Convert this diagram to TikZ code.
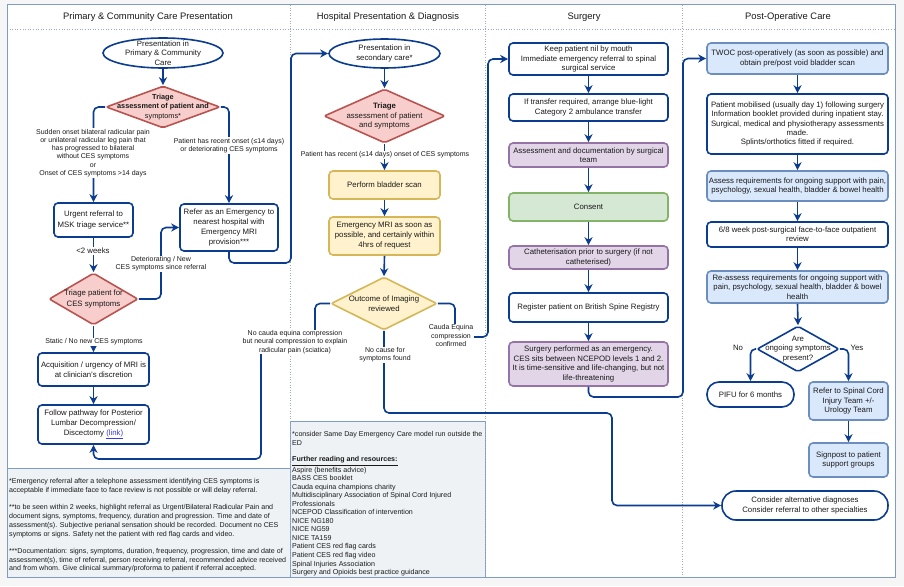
\documentclass[tikz,border=0pt]{standalone}
\usepackage{fontspec}
\setmainfont{Liberation Sans}
\usetikzlibrary{arrows.meta,shapes.geometric}
\definecolor{navy}{HTML}{0B3C8F}
\definecolor{txtc}{HTML}{1A1A1A}
\definecolor{pkfill}{HTML}{F8CECC}
\definecolor{pkdraw}{HTML}{B85450}
\definecolor{yfill}{HTML}{FFF2CC}
\definecolor{ydraw}{HTML}{D6B656}
\definecolor{pufill}{HTML}{E1D5E7}
\definecolor{pudraw}{HTML}{9673A6}
\definecolor{gfill}{HTML}{D5E8D4}
\definecolor{gdraw}{HTML}{82B366}
\definecolor{bfill}{HTML}{DAE8FC}
\definecolor{bdraw}{HTML}{6C8EBF}
\definecolor{framec}{HTML}{7F9CC8}
\definecolor{divc}{HTML}{9AAAC2}
\definecolor{notefill}{HTML}{EEF2F5}
\definecolor{linkc}{HTML}{3B3BE0}
\definecolor{bgc}{HTML}{F6F6F6}
\newcommand\fnBox{\fontsize{7.8}{9.5}\selectfont}
\newcommand\fnBig{\fontsize{7.8}{10.1}\selectfont}
\newcommand\fnSm{\fontsize{7.8}{9.3}\selectfont}
\newcommand\fnDia{\fontsize{7.3}{9.2}\selectfont}
\newcommand\fnLbl{\fontsize{7.0}{8.3}\selectfont}
\newcommand\fnHead{\fontsize{9.4}{11}\selectfont}
\newcommand\fnNote{\fontsize{7.1}{8.7}\selectfont}
\newcommand\fnNoteB{\fontsize{7.1}{8.54}\selectfont}
\newcommand\bx[7][\fnBox]{%
  \node[#2, minimum width=#5pt, minimum height=#6pt] (#3) at (#4) {};
  \node[tx, font=#1] (#3t) at (#3.center) {#7};}
\begin{document}
\begin{tikzpicture}[x=1pt,y=-1pt,
  tx/.style={align=center, inner sep=0pt, text=txtc},
  box/.style={draw=navy, line width=1.6pt, rounded corners=4pt, fill=white, inner sep=0pt},
  bbox/.style={box, draw=bdraw, fill=bfill},
  ybox/.style={box, draw=ydraw, fill=yfill},
  pbox/.style={box, draw=pudraw, fill=pufill},
  gbox/.style={box, draw=gdraw, fill=gfill},
  diam/.style={shape=diamond, draw=navy, fill=white, line width=1.6pt, inner sep=0pt, rounded corners=2pt},
  pdiam/.style={diam, draw=pkdraw, fill=pkfill},
  ydiam/.style={diam, draw=ydraw, fill=yfill},
  ell/.style={shape=ellipse, draw=navy, fill=white, line width=1.6pt, inner sep=0pt},
  stadA/.style={box, rounded corners=12pt},
  stadB/.style={box, rounded corners=14pt},
  conn/.style={draw=navy, line width=1.6pt, rounded corners=5pt},
  arr/.style={conn, -{Stealth[length=8pt,width=8pt,inset=2.5pt]}},
  lbl/.style={fill=white, inner sep=0.8pt, align=center, font=\fnLbl, text=txtc},
  head/.style={font=\fnHead, text=txtc, inner sep=0pt},
  divline/.style={draw=divc, line width=0.6pt, dotted}
]
\useasboundingbox (0,0) rectangle (904,586);
\fill[bgc] (0,0) rectangle (904,586);
\fill[white] (7,5) rectangle (895,577);
% notes backgrounds
\draw[fill=notefill, draw=framec, line width=0.8pt] (7,468) rectangle (290,577);
\draw[fill=notefill, draw=framec, line width=0.8pt] (290,421) rectangle (485,577);
% dividers
\draw[divline] (7,29) -- (895,29);
\draw[divline] (290,5) -- (290,577);
\draw[divline] (485,5) -- (485,577);
\draw[divline] (682,5) -- (682,577);
\draw[draw=framec, line width=1pt] (7,5) rectangle (895,577);
% headers
\node[head] (h1) at (148,17) {Primary \& Community Care Presentation};
\node[head] (h2) at (388,17) {Hospital Presentation \& Diagnosis};
\node[head] (h3) at (584,17) {Surgery};
\node[head] (h4) at (788,17) {Post-Operative Care};

% ---------- column 1
\bx[\fnBox]{ell}{e1}{163,53}{120}{30}{Presentation in\\Primary \& Community\\Care}
\bx[\fnDia]{pdiam}{d1}{163,107}{114}{42}{\textbf{Triage}\\\textbf{assessment of patient and}\\symptoms*}
\bx[\fnBig]{box}{b1}{93.5,220}{79}{34}{Urgent referral to\\MSK triage service**}
\bx[\fnBig]{box}{b2}{229,227.5}{98}{47}{Refer as an Emergency to\\nearest hospital with\\Emergency MRI\\provision***}
\bx[\fnBig]{pdiam}{d2}{93.5,299}{89}{52}{Triage patient for\\CES symptoms}
\bx[\fnBig]{box}{b3}{93.5,369.5}{111}{33}{Acquisition / urgency of MRI is\\at clinician's discretion}
\bx[\fnBig]{box}{b4}{93.5,424.5}{111}{39}{Follow pathway for Posterior\\Lumbar Decompression/\\Discectomy \textcolor{linkc}{\underline{(link)}}}

% ---------- column 2
\bx[\fnBox]{ell}{e2}{384.5,53.5}{111}{29}{Presentation in\\secondary care*}
\bx[\fnBox]{pdiam}{d3}{384.5,116}{121}{54}{\textbf{Triage}\\assessment of patient\\and symptoms}
\bx[\fnBox]{ybox}{y1}{384.5,185}{111}{28}{Perform bladder scan}
\bx[\fnBig]{ybox}{y2}{384.5,236}{111}{38}{Emergency MRI as soon as\\possible, and certainly within\\4hrs of request}
\bx[\fnBig]{ydiam}{d4}{384,303.5}{106}{53}{Outcome of Imaging\\reviewed}

% ---------- column 3
\bx{box}{s1}{588.5,59}{159}{32}{Keep patient nil by mouth\\Immediate emergency referral to spinal\\surgical service}
\bx{box}{s2}{588.5,107.5}{159}{27}{If transfer required, arrange blue-light\\Category 2 ambulance transfer}
\bx{pbox}{s3}{588.5,155}{159}{24}{Assessment and documentation by surgical\\team}
\bx{gbox}{s4}{588.5,207}{159}{28}{Consent}
\bx{pbox}{s5}{588.5,257.5}{159}{23}{Catheterisation prior to surgery (if not\\catheterised)}
\bx{box}{s6}{588.5,307.5}{159}{29}{Register patient on British Spine Registry}
\bx{pbox}{s7}{588.5,364}{159}{44}{Surgery performed as an emergency.\\CES sits between NCEPOD levels 1 and 2.\\It is time-sensitive and life-changing, but not\\life-threatening}

% ---------- column 4
\bx[\fnSm]{bbox}{p1}{797.5,58.5}{181}{31}{TWOC post-operatively (as soon as possible) and\\obtain pre/post void bladder scan}
\bx[\fnSm]{box}{p2}{797.5,124}{181}{60}{Patient mobilised (usually day 1) following surgery\\Information booklet provided during inpatient stay.\\Surgical, medical and physiotherapy assessments\\made.\\Splints/orthotics fitted if required.}
\bx[\fnSm]{bbox}{p3}{797.5,186}{181}{30}{Assess requirements for ongoing support with pain,\\psychology, sexual health, bladder \& bowel health}
\bx[\fnSm]{box}{p4}{797.5,234.5}{181}{25}{6/8 week post-surgical face-to-face outpatient\\review}
\bx[\fnSm]{bbox}{p5}{797.5,287}{181}{32}{Re-assess requirements for ongoing support with\\pain, psychology, sexual health, bladder \& bowel\\health}
\bx[\fnSm]{diam}{d5}{798,349}{82}{46}{Are\\ongoing symptoms\\present?}
\bx[\fnBox]{stadA}{p6}{750.5,394.5}{87}{25}{PIFU for 6 months}
\bx[\fnBox]{bbox}{p7}{848.5,401}{79}{38}{Refer to Spinal Cord\\Injury Team +/-\\Urology Team}
\bx[\fnBox]{bbox}{p8}{848.5,460}{79}{34}{Signpost to patient\\support groups}
\bx[\fnSm]{stadB}{alt}{805,505.5}{166}{29}{Consider alternative diagnoses\\Consider referral to other specialties}

% ---------- connectors
\draw[arr] (e1.south) -- (d1.north);
\draw[arr] (d1.west) -| (b1.north);
\draw[arr] (d1.east) -| (b2.north);
\draw[arr] (b1.south) -- (d2.north);
\draw[arr] (d2.east) -- (161,299) |- (b2.west);
\draw[arr] (d2.south) -- (b3.north);
\draw[arr] (b3.south) -- (b4.north);
\draw[arr] (b2.south) -- (229,263) -| (291,53.5) -- (e2.west);

\draw[arr] (e2.south) -- (d3.north);
\draw[arr] (d3.south) -- (y1.north);
\draw[arr] (y1.south) -- (y2.north);
\draw[arr] (y2.south) -- (d4.north);
\draw[arr] (d4.west) -- (315,303.5) -- (315,341) -- (261,341) -- (261,459) -| (b4.south);
\draw[arr] (d4.south) -- (384,413) -- (612,413) -- (612,505.5) -- (alt.west);
\draw[arr] (d4.east) -- (455,303.5) -- (455,337) -- (488,337) -- (488,59) -- (s1.west);

\draw[arr] (s1.south) -- (s2.north);
\draw[arr] (s2.south) -- (s3.north);
\draw[arr] (s3.south) -- (s4.north);
\draw[arr] (s4.south) -- (s5.north);
\draw[arr] (s5.south) -- (s6.north);
\draw[arr] (s6.south) -- (s7.north);
\draw[arr] (s7.south) -- (588.5,397) -- (683,397) -- (683,58.5) -- (p1.west);

\draw[arr] (p1.south) -- (p2.north);
\draw[arr] (p2.south) -- (p3.north);
\draw[arr] (p3.south) -- (p4.north);
\draw[arr] (p4.south) -- (p5.north);
\draw[arr] (p5.south) -- (d5.north);
\draw[arr] (d5.west) -| (p6.north);
\draw[arr] (d5.east) -| (p7.north);
\draw[arr] (p7.south) -- (p8.north);

% ---------- labels
\node[lbl] (l1) at (93,153) {Sudden onset bilateral radicular pain\\or unilateral radicular leg pain that\\has progressed to bilateral\\without CES symptoms\\or\\Onset of CES symptoms >14 days};
\node[lbl] (l2) at (229,145.5) {Patient has recent onset (≤14 days)\\or deteriorating CES symptoms};
\node[lbl, font=\fnBox] (l3) at (93,251) {<2 weeks};
\node[lbl] (l4) at (161,264) {Deteriorating / New\\CES symptoms since referral};
\node[lbl] (l5) at (94,342) {Static / No new CES symptoms};
\node[lbl] (l6) at (385,155) {Patient has recent (≤14 days) onset of CES symptoms};
\node[lbl] (l7) at (295,342) {No cauda equina compression\\but neural compression to explain\\radicular pain (sciatica)};
\node[lbl] (l8) at (385,355) {No cause for\\symptoms found};
\node[lbl] (l9) at (451,335.5) {Cauda Equina\\compression\\confirmed};
\node[lbl, font=\fnBox, fill=none] (l10) at (738,348) {No};
\node[lbl, font=\fnBox, fill=none] (l11) at (857,348) {Yes};

% ---------- notes
\node[anchor=north west, align=left, font=\fnNote, inner sep=0pt, text=txtc] (n1) at (9,478.5) {%
*Emergency referral after a telephone assessment identifying CES symptoms is\\
acceptable if immediate face to face review is not possible or will delay referral.\\[8.7pt]
**to be seen within 2 weeks, highlight referral as Urgent/Bilateral Radicular Pain and\\
document signs, symptoms, frequency, duration and progression. Time and date of\\
assessment(s). Subjective perianal sensation should be recorded. Document no CES\\
symptoms or signs. Safety net the patient with red flag cards and video.\\[8.7pt]
***Documentation: signs, symptoms, duration, frequency, progression, time and date of\\
assessment(s), time of referral, person receiving referral, recommended advice received\\
and from whom. Give clinical summary/proforma to patient if referral accepted.};
\node[anchor=north west, align=left, font=\fnNoteB, inner sep=0pt, text=txtc] (n2) at (292,431.5) {%
*consider Same Day Emergency Care model run outside the\\
ED\\[8pt]
\underline{\textbf{Further reading and resources:}}\\[0.5pt]
Aspire (benefits advice)\\
BASS CES booklet\\
Cauda equina champions charity\\
Multidisciplinary Association of Spinal Cord Injured\\
Professionals\\
NCEPOD Classification of intervention\\
NICE NG180\\
NICE NG59\\
NICE TA159\\
Patient CES red flag cards\\
Patient CES red flag video\\
Spinal Injuries Association\\
Surgery and Opioids best practice guidance};
\end{tikzpicture}
\end{document}
